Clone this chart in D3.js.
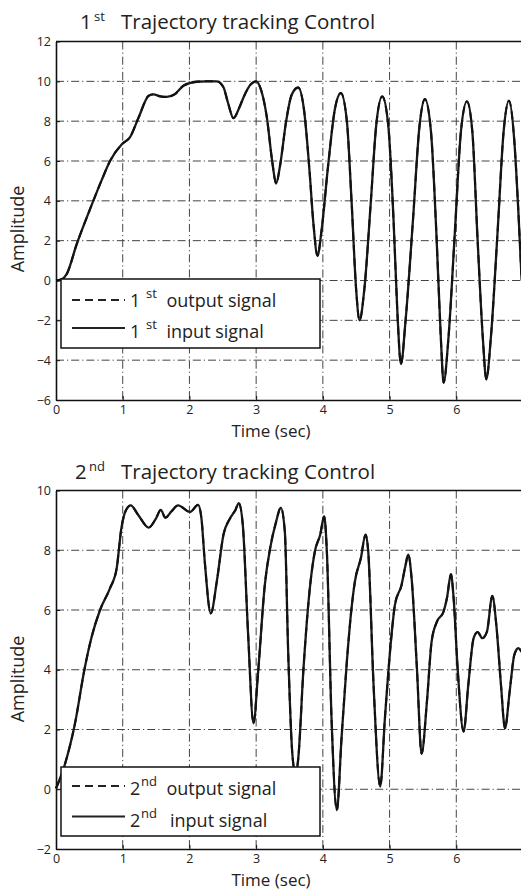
<!DOCTYPE html>
<html>
<head>
<meta charset="utf-8">
<script src="https://cdn.jsdelivr.net/npm/d3@7"></script>
<style>
  body { margin: 0; background: #fff; }
  svg { display: block; font-family: "Open Sans", sans-serif; }
</style>
</head>
<body>
<svg id="chart" width="521" height="889"></svg>
<script>
// time axis ticks (shared by both panels)
var timeTicks = [0, 1, 2, 3, 4, 5, 6];

// panel 1 - amplitude ticks and signal (input and output coincide in the figure)
var yTicks1 = [-6, -4, -2, 0, 2, 4, 6, 8, 10, 12];
var time1 = [0, 0.08, 0.16, 0.31, 0.51, 0.68, 0.81, 0.99, 1.11, 1.24, 1.39, 1.46, 1.56, 1.66, 1.78, 1.91,
  2.11, 2.25, 2.41, 2.51, 2.58, 2.66, 2.75, 2.81, 2.92, 3.0, 3.08, 3.16, 3.24, 3.30, 3.36, 3.45, 3.53,
  3.63, 3.72, 3.80, 3.86, 3.92, 3.98, 4.08, 4.18, 4.27, 4.36, 4.43, 4.50, 4.55, 4.62, 4.72, 4.80,
  4.89, 4.98, 5.06, 5.12, 5.17, 5.24, 5.35, 5.45, 5.53, 5.62, 5.70, 5.77, 5.81, 5.88, 5.98, 6.07,
  6.16, 6.24, 6.32, 6.40, 6.45, 6.52, 6.62, 6.71, 6.79, 6.87, 6.93, 6.98];
var signal1 = [0, 0.05, 0.32, 1.82, 3.58, 5.0, 6.0, 6.85, 7.2, 8.2, 9.28, 9.35, 9.25, 9.22, 9.35, 9.78,
  9.98, 10.0, 10.0, 9.7, 8.9, 8.15, 8.7, 9.19, 9.85, 10.0, 9.5, 8.2, 6.0, 4.87, 5.8, 8.0, 9.3,
  9.69, 8.5, 5.5, 2.8, 1.24, 2.5, 5.8, 8.6, 9.41, 8.0, 4.0, -0.5, -2.0, -0.5, 4.0, 7.8,
  9.24, 7.8, 3.0, -1.8, -4.2, -2.0, 3.0, 7.8, 9.11, 7.5, 2.5, -3.0, -5.13, -3.0, 2.5, 7.5,
  8.99, 7.5, 2.0, -3.0, -4.96, -2.8, 2.5, 7.5, 9.03, 7.0, 3.5, 0.0];

// panel 2
var yTicks2 = [-2, 0, 2, 4, 6, 8, 10];
var time2 = [0, 0.13, 0.28, 0.43, 0.53, 0.66, 0.81, 0.91, 0.98, 1.04, 1.12, 1.23, 1.39, 1.5, 1.57, 1.64,
  1.73, 1.83, 2.01, 2.13, 2.18, 2.23, 2.32, 2.41, 2.51, 2.61, 2.69, 2.74, 2.80, 2.88, 2.96, 3.03,
  3.13, 3.21, 3.30, 3.37, 3.43, 3.48, 3.54, 3.59, 3.63, 3.71, 3.81, 3.88, 3.96, 4.02, 4.06, 4.13,
  4.21, 4.28, 4.36, 4.43, 4.48, 4.57, 4.64, 4.68, 4.76, 4.86, 4.93, 5.02, 5.08, 5.18, 5.24, 5.28,
  5.33, 5.41, 5.48, 5.56, 5.63, 5.71, 5.81, 5.86, 5.92, 5.96, 6.02, 6.11, 6.18, 6.26, 6.32, 6.39,
  6.46, 6.54, 6.60, 6.67, 6.73, 6.80, 6.87, 6.93, 6.98];
var signal2 = [0.03, 0.81, 2.15, 4.05, 5.06, 6.0, 6.73, 7.4, 8.74, 9.3, 9.5, 9.19, 8.76, 9.07, 9.35, 9.09,
  9.3, 9.5, 9.28, 9.52, 9.07, 7.62, 5.89, 6.95, 8.52, 9.07, 9.35, 9.58, 8.85, 5.17, 2.21, 3.94,
  6.84, 8.07, 8.96, 9.43, 8.63, 4.61, 1.26, 0.5, 1.0, 4.05, 6.84, 7.96, 8.52, 9.13, 7.96, 2.37,
  -0.70, 1.71, 4.28, 6.06, 6.95, 7.74, 8.52, 7.96, 3.49, 0.09, 2.37, 4.94, 6.17, 6.84, 7.51, 7.85,
  7.07, 4.05, 1.19, 2.93, 4.94, 5.61, 5.95, 6.4, 7.2, 6.4, 4.05, 1.93, 3.49, 5.06, 5.26, 5.06,
  5.28, 6.47, 5.5, 3.49, 2.04, 3.27, 4.5, 4.72, 4.6];

var svg = d3.select("#chart");
var x = d3.scaleLinear().domain([0, 7]).range([56, 523]);

var panels = [
  { ord: "1", sup: "st", yTicks: yTicks1, time: time1, signal: signal1, top: 41.5, bottom: 400,
    titleY: 28.5, titleX: 80, supX: 94, timeY: 437, ampY: 229,
    legTop: 279, rows: [{ line: 300, base: 306.5 }, { line: 328, base: 338 }], inX: 166.5, supLegX: 146 },
  { ord: "2", sup: "nd", yTicks: yTicks2, time: time2, signal: signal2, top: 490.5, bottom: 849,
    titleY: 479, titleX: 75, supX: 89, timeY: 885.5, ampY: 679,
    legTop: 767, rows: [{ line: 786, base: 795 }, { line: 816.5, base: 826.5 }], inX: 170, supLegX: 141 }
];

panels.forEach(function(p) {
  var y = d3.scaleLinear().domain(d3.extent(p.yTicks)).range([p.bottom, p.top]);
  var g = svg.append("g");

  // grid
  g.selectAll(".vgrid")
    .data(timeTicks.slice(1))
    .enter().append("line")
    .attr("x1", d => x(d)).attr("x2", d => x(d))
    .attr("y1", p.top).attr("y2", p.bottom)
    .attr("stroke", "#444").attr("stroke-width", 1)
    .attr("stroke-dasharray", "8,3,1.2,3");
  g.selectAll(".hgrid")
    .data(p.yTicks.slice(1, -1))
    .enter().append("line")
    .attr("x1", x(0)).attr("x2", x(7))
    .attr("y1", d => y(d)).attr("y2", d => y(d))
    .attr("stroke", "#444").attr("stroke-width", 1)
    .attr("stroke-dasharray", "8,3,1.2,3");

  // signals
  var pts = p.time.map((t, i) => [t, p.signal[i]]);
  var line = d3.line()
    .x(d => x(d[0]))
    .y(d => y(d[1]))
    .curve(d3.curveMonotoneX);
  g.append("path")
    .attr("d", line(pts))
    .attr("fill", "none")
    .attr("stroke", "#1a1a1a")
    .attr("stroke-width", 2.3);
  g.append("path")
    .attr("d", line(pts))
    .attr("fill", "none")
    .attr("stroke", "#111")
    .attr("stroke-width", 2)
    .attr("stroke-dasharray", "8,5");

  // axes
  var xAxis = g.append("g")
    .attr("transform", `translate(0,${p.bottom})`)
    .call(d3.axisBottom(x).tickValues(timeTicks).tickFormat(d3.format("d"))
      .tickSizeInner(-4).tickSizeOuter(0).tickPadding(5));
  var yAxis = g.append("g")
    .attr("transform", `translate(${x(0)},0)`)
    .call(d3.axisLeft(y).tickValues(p.yTicks).tickFormat(d3.format("d"))
      .tickSizeInner(-4).tickSizeOuter(0).tickPadding(5));
  [xAxis, yAxis].forEach(function(a) {
    a.select(".domain").attr("stroke", "#111").attr("stroke-width", 1.6);
    a.selectAll(".tick line").attr("stroke", "#111");
    a.selectAll("text").attr("font-size", 12.5).attr("fill", "#222").attr("font-family", "'Open Sans', sans-serif");
  });
  g.append("line")
    .attr("x1", x(0)).attr("x2", x(7))
    .attr("y1", p.top).attr("y2", p.top)
    .attr("stroke", "#111").attr("stroke-width", 1.6);

  // labels
  g.append("text")
    .attr("x", 271).attr("y", p.timeY)
    .attr("text-anchor", "middle")
    .attr("font-size", 17).attr("fill", "#222")
    .text("Time (sec)");
  g.append("text")
    .attr("transform", `translate(24,${p.ampY}) rotate(-90)`)
    .attr("text-anchor", "middle")
    .attr("font-size", 18).attr("fill", "#222")
    .text("Amplitude");

  var title = g.append("text")
    .attr("x", p.titleX).attr("y", p.titleY)
    .attr("font-size", 20.5).attr("fill", "#222");
  title.append("tspan").text(p.ord);
  title.append("tspan").attr("x", p.supX).attr("dy", -8).attr("font-size", 13).text(p.sup);
  title.append("tspan").attr("x", 121).attr("dy", 8).text("Trajectory tracking Control");

  // legend
  var leg = g.append("g");
  leg.append("rect")
    .attr("x", 61).attr("y", p.legTop)
    .attr("width", 259).attr("height", 69)
    .attr("fill", "#fff").attr("stroke", "#111").attr("stroke-width", 1.5);
  var labels = ["output signal", "input signal"];
  p.rows.forEach(function(r, i) {
    leg.append("line")
      .attr("x1", 72).attr("x2", 125)
      .attr("y1", r.line).attr("y2", r.line)
      .attr("stroke", "#222").attr("stroke-width", 2)
      .attr("stroke-dasharray", i === 0 ? "8,5" : null);
    var t = leg.append("text")
      .attr("x", 130).attr("y", r.base)
      .attr("font-size", 18).attr("fill", "#222");
    t.append("tspan").text(p.ord);
    t.append("tspan").attr("x", p.supLegX).attr("dy", -9).attr("font-size", 13).text(p.sup);
    t.append("tspan").attr("x", i === 0 ? 166.5 : p.inX).attr("dy", 9).text(labels[i]);
  });
});
</script>
</body>
</html>
